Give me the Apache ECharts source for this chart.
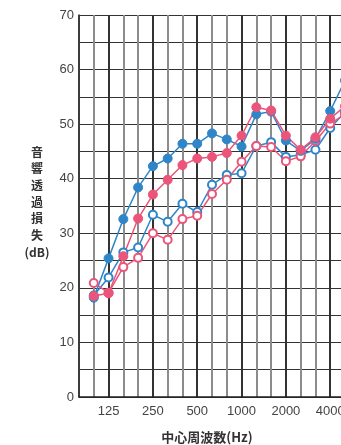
<!DOCTYPE html>
<html><head><meta charset="utf-8">
<script src="https://cdn.jsdelivr.net/npm/echarts@6/dist/echarts.min.js"></script>
<style>html,body{margin:0;padding:0;background:#fff;overflow:hidden}#c{width:341px;height:445px}</style>
</head><body><div id="c"></div>
<script>
const categories = ['80','100','125','160','200','250','315','400','500','630','800','1000','1250','1600','2000','2500','3150','4000','5000'];
const tickLabels = ['125','250','500','1000','2000','4000'];
const blueFilled = [null, 18.2, 25.4, 32.6, 38.4, 42.3, 43.7, 46.4, 46.4, 48.3, 47.2, 45.9, 51.8, 52.3, 47.0, 45.1, 47.3, 52.4, 58.0];
const pinkFilled = [null, 18.5, 19.0, 25.8, 32.7, 37.1, 39.8, 42.5, 43.7, 44.0, 44.7, 47.9, 53.1, 52.5, 47.9, 45.3, 47.6, 51.0, 53.3];
const blueHollow = [null, 18.6, 21.9, 26.5, 27.4, 33.4, 32.1, 35.4, 33.9, 38.9, 40.7, 41.0, 46.0, 46.7, 44.0, 44.4, 45.3, 49.3, 52.2];
const pinkHollow = [null, 20.9, 19.1, 23.8, 25.5, 30.0, 28.8, 32.6, 33.2, 37.2, 39.8, 43.1, 46.0, 45.8, 43.2, 44.1, 46.9, 50.1, 51.8];
const yTicks = [0,10,20,30,40,50,60,70];

const BLUE = '#2e86c9', PINK = '#eb5579';
function filled(name, data, color){
  return {name, type:'line', data, symbol:'circle', symbolSize:9,
    lineStyle:{color, width:1.5}, itemStyle:{color, borderColor:color, borderWidth:1}, z:3};
}
function hollow(name, data, color){
  return {name, type:'line', data, symbol:'circle', symbolSize:8,
    lineStyle:{color, width:1.5}, itemStyle:{color:'#fff', borderColor:color, borderWidth:2}, z:3};
}
const chart = echarts.init(document.getElementById('c'), null, {renderer:'canvas'});
chart.setOption({
  animation:false,
  backgroundColor:'#fff',
  grid:{left:79, top:15, width:266, height:382, containLabel:false, outerBoundsMode:'none'},
  xAxis:[{
    type:'category', data:categories, boundaryGap:false, position:'bottom',
    axisLine:{show:true, lineStyle:{color:'#222', width:1.5}},
    axisTick:{show:false},
    axisLabel:{interval:0, margin:8, color:'#444', fontSize:13, fontFamily:'Liberation Sans, Arial, sans-serif',
      formatter:(v)=> tickLabels.includes(v) ? v : ''},
    splitLine:{show:true, interval:0, lineStyle:{color:'#8c8c8c', width:2}}
  },{
    type:'category', data:categories, boundaryGap:false, position:'bottom', gridIndex:0,
    axisLine:{show:false}, axisTick:{show:false}, axisLabel:{show:false},
    splitLine:{show:true, interval:(i)=> tickLabels.includes(categories[i]), lineStyle:{color:'#333', width:2}}
  }],
  yAxis:{
    type:'value', min:0, max:70, interval:5,
    axisLine:{show:true, lineStyle:{color:'#222', width:1.5}},
    axisTick:{show:false},
    axisLabel:{margin:5, color:'#444', fontSize:13, fontFamily:'Liberation Sans, Arial, sans-serif',
      formatter:(v)=> yTicks.includes(v) ? String(v) : ''},
    splitLine:{show:true, lineStyle:{color:'#333', width:1.2}}
  },
  graphic:[
    {type:'text', style:{text:'音\n響\n透\n過\n損\n失', x:37, y:144, fontSize:12, lineHeight:16.6, fontWeight:'bold', fill:'#333', align:'center', verticalAlign:'top', fontFamily:'Noto Sans CJK JP'}},
    {type:'text', style:{text:'(dB)', x:37, y:252, fontSize:12, fontWeight:'bold', fill:'#333', align:'center', verticalAlign:'middle', fontFamily:'Noto Sans CJK JP'}},
    {type:'text', style:{text:'中心周波数(Hz)', x:207, y:437, fontSize:13, fontWeight:'bold', fill:'#333', align:'center', verticalAlign:'middle', fontFamily:'Noto Sans CJK JP'}}
  ],
  series:[
    hollow('bh', blueHollow, BLUE),
    hollow('ph', pinkHollow, PINK),
    filled('bf', blueFilled, BLUE),
    filled('pf', pinkFilled, PINK)
  ]
});
</script></body></html>
